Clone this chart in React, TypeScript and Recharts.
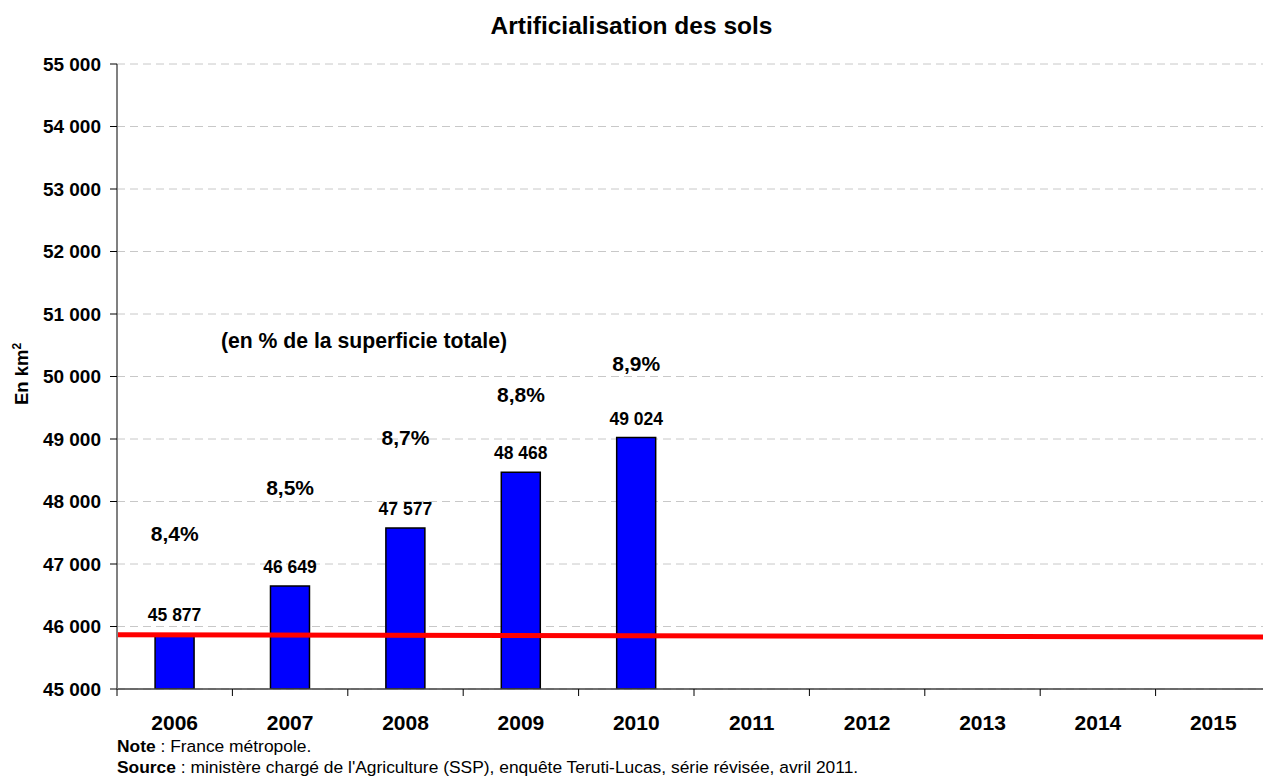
import React from 'react';
import {
  ComposedChart,
  Bar,
  Line,
  XAxis,
  YAxis,
  CartesianGrid,
  LabelList,
  ReferenceDot,
} from 'recharts';

// ---- Data ----
const years = ['2006', '2007', '2008', '2009', '2010', '2011', '2012', '2013', '2014', '2015'];
const surfaceKm2: (number | null)[] = [45877, 46649, 47577, 48468, 49024, null, null, null, null, null];
const shareLabels = ['8,4%', '8,5%', '8,7%', '8,8%', '8,9%'];
// annotation anchors (in km², on the value axis) for the share labels
const shareLabelAnchors = [47480, 48224, 49016, 49704, 50211];
const yTicks = [45000, 46000, 47000, 48000, 49000, 50000, 51000, 52000, 53000, 54000, 55000];
const boundaryTicks = [0, 1, 2, 3, 4, 5, 6, 7, 8, 9, 10];
const redLineValues = [45868, 45830];
const redLineSpan = [0, 10];

const data = years.map((y, i) => ({ year: y, value: surfaceKm2[i] }));
const redLineData = redLineSpan.map((gx, i) => ({ gx, red: redLineValues[i] }));

const FONT = '"Liberation Sans", Arial, sans-serif';

const fmt = (v: any) => {
  if (v === null || v === undefined || v === '') return '';
  return String(v).replace(/\B(?=(\d{3})+(?!\d))/g, ' ');
};
const fmtNb = (v: any) => fmt(v).replace(/ /g, '\u00a0');

export default function App() {
  return (
    <div style={{ position: 'absolute', left: 0, top: 0, width: 1263, height: 781, overflow: 'hidden', background: '#fff' }}>
      <ComposedChart
        width={1280}
        height={781}
        data={data}
        barCategoryGap="33%"
        margin={{ top: 64, right: 9, left: 0, bottom: 0 }}
      >
        <CartesianGrid horizontal vertical={false} stroke="#c8c8c8" strokeDasharray="8 5" />
        <XAxis
          dataKey="year"
          height={0.01}
          tickLine={false}
          axisLine={{ stroke: '#404040', strokeWidth: 1.5 }}
          tickSize={7}
          tickMargin={19}
          interval={0}
          tick={{ fill: '#000', fontSize: 21, fontWeight: 'bold', fontFamily: FONT }}
        />
        <XAxis
          xAxisId="grid"
          type="number"
          dataKey="gx"
          domain={[0, 10]}
          ticks={boundaryTicks}
          allowDataOverflow
          height={91.99}
          tickFormatter={() => ''}
          axisLine={false}
          tickLine={{ stroke: '#000', strokeWidth: 1 }}
          tickSize={7}
        />
        <YAxis
          width={117}
          domain={[45000, 55000]}
          ticks={yTicks}
          allowDataOverflow
          tickFormatter={fmt}
          axisLine={{ stroke: '#808080', strokeWidth: 2 }}
          tickLine={{ stroke: '#000', strokeWidth: 1 }}
          tickSize={7}
          tickMargin={9}
          tick={{ fill: '#000', fontSize: 19, fontWeight: 'bold', fontFamily: FONT }}
        />
        <Bar
          dataKey="value"
          fill="#0000FF"
          stroke="#000"
          strokeWidth={1.5}
          isAnimationActive={false}
        >
          <LabelList
            dataKey="value"
            position="top"
            offset={13}
            formatter={fmtNb}
            style={{ fill: '#000', fontSize: 17.5, fontWeight: 'bold', fontFamily: FONT }}
          />
        </Bar>
        <Line
          xAxisId="grid"
          data={redLineData}
          dataKey="red"
          stroke="#FF0000"
          strokeWidth={5}
          dot={false}
          activeDot={false}
          isAnimationActive={false}
        />
        {shareLabels.map((s, i) => (
          <ReferenceDot
            key={s}
            x={years[i]}
            y={shareLabelAnchors[i]}
            r={0}
            fill="none"
            stroke="none"
            label={{
              value: s,
              position: 'center',
              fill: '#000',
              fontSize: 21,
              fontWeight: 'bold',
              fontFamily: FONT,
            }}
          />
        ))}
      </ComposedChart>
      <svg
        width={1263}
        height={781}
        style={{ position: 'absolute', left: 0, top: 0, pointerEvents: 'none' }}
      >
        <text x={631.5} y={34} textAnchor="middle" fontSize={24.5} fontWeight="bold" fontFamily={FONT} fill="#000">
          Artificialisation des sols
        </text>
        <text x={364} y={347.5} textAnchor="middle" fontSize={21.2} fontWeight="bold" fontFamily={FONT} fill="#000">
          (en % de la superficie totale)
        </text>
        <text
          x={28.3}
          y={405}
          transform="rotate(-90 28.3 405)"
          textAnchor="start"
          fontSize={18.5}
          fontWeight="bold"
          fontFamily={FONT}
          fill="#000"
        >
          <tspan>En km</tspan>
          <tspan dy={-7} fontSize={12}>2</tspan>
        </text>
        <text x={117} y={752} fontSize={17.4} fontFamily={FONT} fill="#000">
          <tspan fontWeight="bold">Note</tspan>
          <tspan> : France métropole.</tspan>
        </text>
        <text x={117} y={773} fontSize={17.4} fontFamily={FONT} fill="#000">
          <tspan fontWeight="bold">Source</tspan>
          <tspan> : ministère chargé de l'Agriculture (SSP), enquête Teruti-Lucas, série révisée, avril 2011.</tspan>
        </text>
      </svg>
    </div>
  );
}
